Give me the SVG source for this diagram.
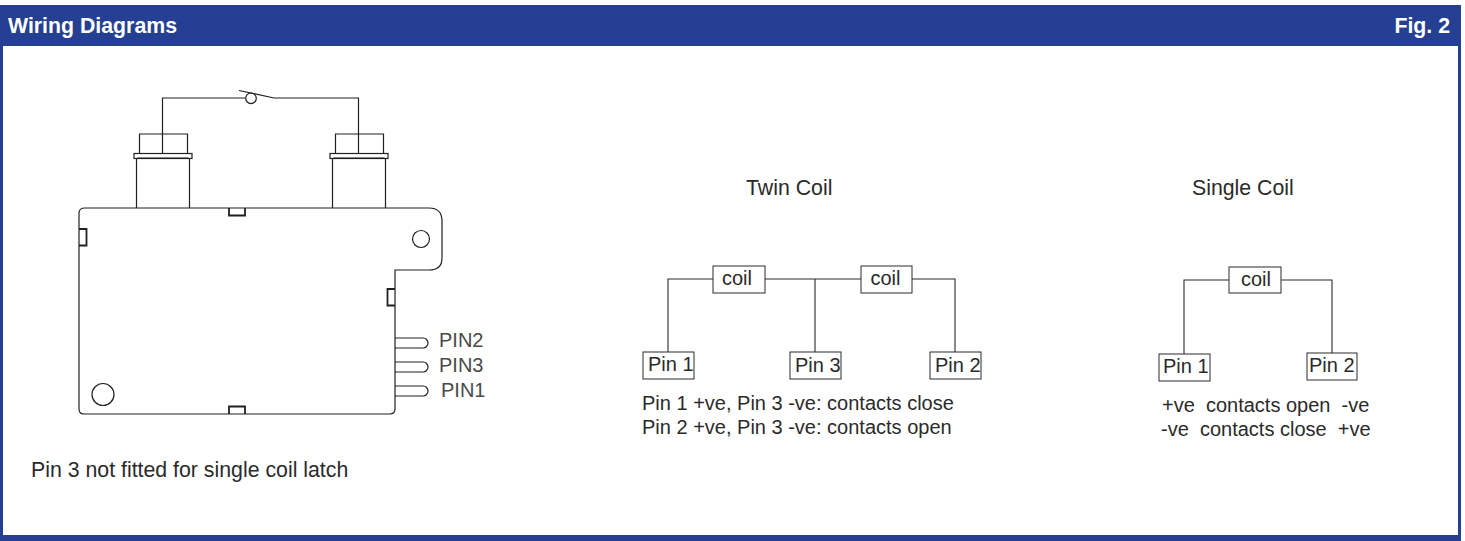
<svg xmlns="http://www.w3.org/2000/svg" width="1465" height="541" viewBox="0 0 1465 541">
<style>
text{font-family:"Liberation Sans",Arial,sans-serif;fill:#2b2a2b}
.t{font-size:21.300px}
.s{font-size:20px}
.h{font-size:21.300px;font-weight:700;fill:#fff}
.p{font-size:20px;fill:#4a4a4a}
.l{fill:none;stroke:#2b2a2b;stroke-width:1.100}
.d{fill:none;stroke:#231f20;stroke-width:1.200}
.k{fill:none;stroke:#231f20;stroke-width:1.800}
.b{fill:#fff;stroke:#2b2a2b;stroke-width:1}
</style>
<rect width="1465" height="541" fill="#fff"/>
<g id="frame">
<rect x="0" y="5" width="1460" height="41" fill="#253f92"/>
<rect x="0" y="46" width="3" height="495" fill="#253f92"/>
<rect x="1458" y="5" width="3" height="536" fill="#253f92"/>
<rect x="0" y="535" width="1461" height="6" fill="#253f92"/>
<text class="h" x="8" y="33">Wiring Diagrams</text>
<text class="h" x="1450" y="33" text-anchor="end">Fig. 2</text>
</g>
<g id="latch">
<path class="d" d="M85 208H429Q442 208 442 221V258Q442 270 429 270H395V409Q395 414 390 414H84Q79 414 79 409V213Q79 208 85 208Z"/>
<path class="k" d="M229 208V215.500H245V208M229 414V406.500H245V414M79 229H86.500V245.500H79M395 289H387.500V305.500H395"/>
<circle class="d" cx="421" cy="239" r="8.500"/>
<circle class="d" cx="103" cy="394.500" r="11"/>
<path class="d" d="M136.500 208V159.500Q136.500 158 138 158H188Q189.500 158 189.500 159.500V208M332.500 208V159.500Q332.500 158 334 158H384Q385.500 158 385.500 159.500V208"/>
<rect class="d" x="134" y="153.500" width="58" height="5"/>
<rect class="d" x="330" y="153.500" width="58" height="5"/>
<path class="d" d="M139.500 153V134H187.500V153M335.500 153V134H383.500V153"/>
<path class="d" d="M395 338H423A5 5 0 0 1 423 348H395M395 362H423A5 5 0 0 1 423 372H395M395 386H423A5 5 0 0 1 423 396H395"/>
<text class="p" x="439" y="347">PIN2</text>
<text class="p" x="439" y="372">PIN3</text>
<text class="p" x="441" y="397">PIN1</text>
</g>
<g id="switch">
<path class="d" d="M162.500 153V98H245.500M274 98H358.500V153"/>
<circle class="d" cx="251" cy="98.300" r="5.300"/>
<path class="d" d="M239 90.500L274 98"/>
</g>
<g id="connectors">
<path class="l" d="M713 279H668V352M765 279H861M815 279V352M912 279H955V352"/>
<path class="l" d="M1229 280H1184V354M1281 280H1332V353"/>
</g>
<g id="twin-coil-1"><rect class="b" x="713" y="266" width="52" height="27"/><text class="s" x="737" y="285" text-anchor="middle">coil</text></g>
<g id="twin-coil-2"><rect class="b" x="861" y="266" width="51" height="27"/><text class="s" x="885.500" y="285" text-anchor="middle">coil</text></g>
<g id="twin-pin-1"><rect class="b" x="643" y="352" width="51" height="27"/><text class="s" x="648" y="371">Pin 1</text></g>
<g id="twin-pin-3"><rect class="b" x="790" y="352" width="51" height="27"/><text class="s" x="795" y="372">Pin 3</text></g>
<g id="twin-pin-2"><rect class="b" x="930" y="352" width="51" height="27"/><text class="s" x="935" y="372">Pin 2</text></g>
<g id="single-coil"><rect class="b" x="1229" y="267" width="52" height="26"/><text class="s" x="1256" y="286" text-anchor="middle">coil</text></g>
<g id="single-pin-1"><rect class="b" x="1159" y="354" width="51" height="27"/><text class="s" x="1163" y="373">Pin 1</text></g>
<g id="single-pin-2"><rect class="b" x="1307" y="353" width="50" height="27"/><text class="s" x="1309" y="372">Pin 2</text></g>
<g id="labels">
<text class="t" x="746" y="195">Twin Coil</text>
<text class="t" x="1192" y="195">Single Coil</text>
<text class="s" x="642" y="409.500">Pin 1 +ve, Pin 3 -ve: contacts close</text>
<text class="s" x="642" y="433.500">Pin 2 +ve, Pin 3 -ve: contacts open</text>
<text class="s" x="1162" y="412" xml:space="preserve">+ve  contacts open  -ve</text>
<text class="s" x="1161" y="436" xml:space="preserve">-ve  contacts close  +ve</text>
<text class="t" x="31" y="477">Pin 3 not fitted for single coil latch</text>
</g>
</svg>
